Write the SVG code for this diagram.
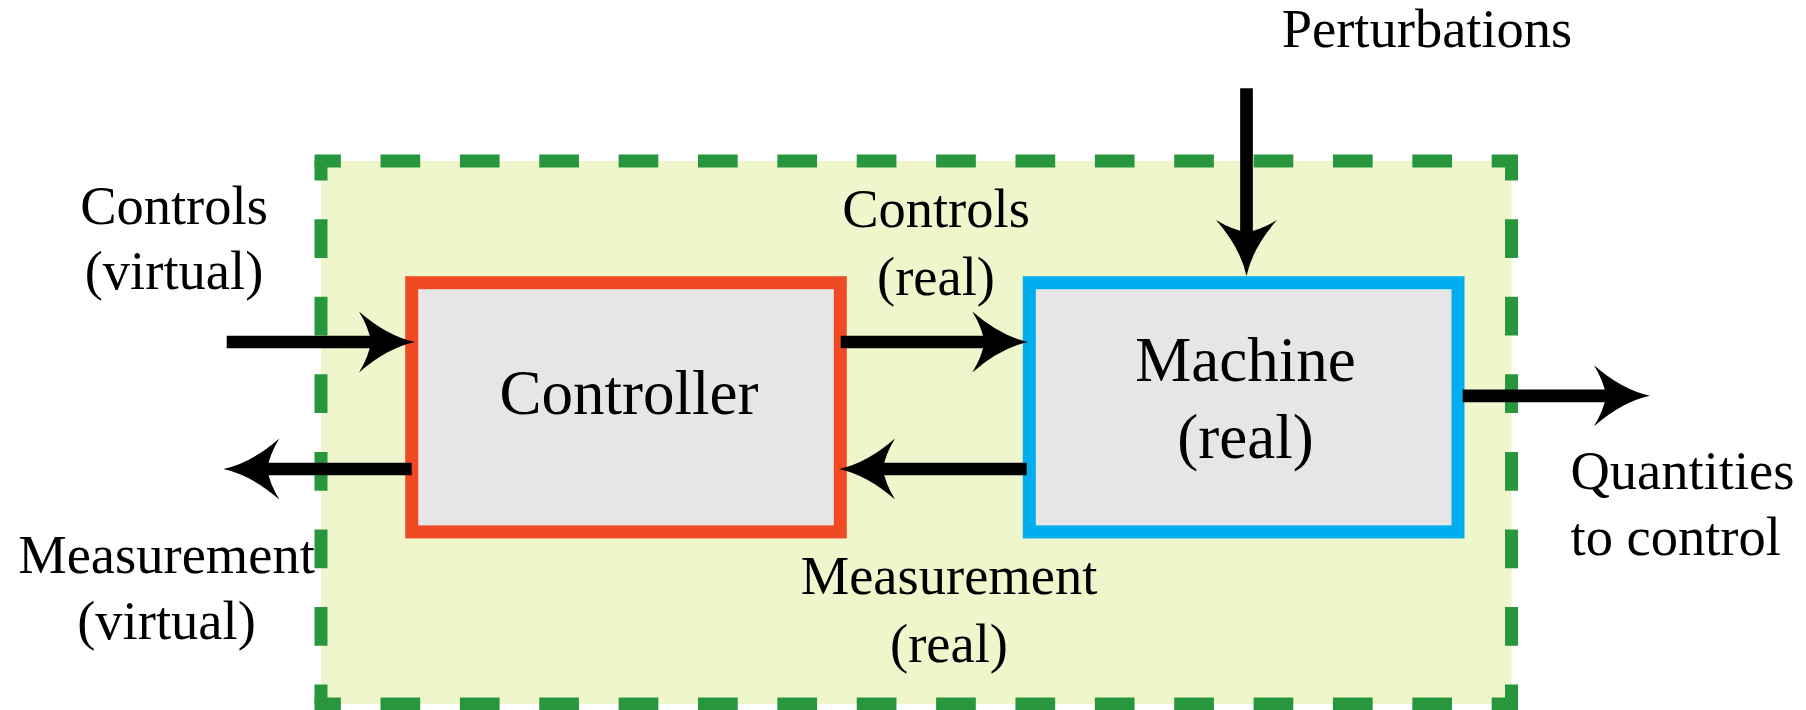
<svg xmlns="http://www.w3.org/2000/svg" width="1806" height="710" viewBox="0 0 1806 710">
<style>
.lbl{font-family:"Liberation Serif","Times New Roman",serif;font-size:54.5px;fill:#000}
.big{font-family:"Liberation Serif","Times New Roman",serif;font-size:63px;fill:#000}
.bh{stroke:#28963C;stroke-width:13;fill:none;stroke-dasharray:39.7 39.67;stroke-dashoffset:13.35}
.bv{stroke:#28963C;stroke-width:13;fill:none;stroke-dasharray:38.79 38.78;stroke-dashoffset:19.39}
.node{fill:#E6E6E6;stroke-width:13}
.conn{stroke:#000;stroke-width:12.7;fill:none;marker-end:url(#head)}
</style>
<defs>
<marker id="head" markerUnits="userSpaceOnUse" orient="auto" overflow="visible" refX="16" refY="0" markerWidth="60" markerHeight="64">
<path d="M56 0 Q28 -6 0 -30.5 Q10 -14 12 0 Q10 14 0 30.5 Q28 6 56 0 Z" fill="#000"/>
</marker>
</defs>
<rect width="1806" height="710" fill="#fff"/>
<g id="system">
<rect x="321" y="161" width="1190.5" height="543" fill="#F0F6CC"/>
<line class="bh" x1="314.5" y1="161" x2="1518" y2="161"/>
<line class="bh" x1="314.5" y1="704" x2="1518" y2="704"/>
<line class="bv" x1="321" y1="161" x2="321" y2="704"/>
<line class="bv" x1="1511.5" y1="161" x2="1511.5" y2="704"/>
</g>
<g id="controller">
<rect class="node" x="411.7" y="282.7" width="428.6" height="249.2" stroke="#F04A24"/>
<text class="big" x="629" y="414" text-anchor="middle">Controller</text>
</g>
<g id="machine">
<rect class="node" x="1029.3" y="282.7" width="428.7" height="249.2" stroke="#00AEEF"/>
<text class="big" x="1245.5" y="381" text-anchor="middle">Machine</text>
<text class="big" x="1245.5" y="458" text-anchor="middle">(real)</text>
</g>
<g id="labels">
<text class="lbl" x="1427" y="46.5" text-anchor="middle">Perturbations</text>
<text class="lbl" x="174" y="223.5" text-anchor="middle">Controls</text>
<text class="lbl" x="174" y="289" text-anchor="middle">(virtual)</text>
<text class="lbl" x="936" y="227" text-anchor="middle">Controls</text>
<text class="lbl" x="936" y="295" text-anchor="middle">(real)</text>
<text class="lbl" x="166.5" y="572.5" text-anchor="middle">Measurement</text>
<text class="lbl" x="166.5" y="638.5" text-anchor="middle">(virtual)</text>
<text class="lbl" x="949" y="594" text-anchor="middle">Measurement</text>
<text class="lbl" x="949" y="662" text-anchor="middle">(real)</text>
<text class="lbl" x="1570.5" y="488.5">Quantities</text>
<text class="lbl" x="1570.5" y="555">to control</text>
</g>
<g id="connectors">
<path class="conn" d="M226.7 342 H375"/>
<path class="conn" d="M411.7 469 H263.3"/>
<path class="conn" d="M840.7 342 H988.3"/>
<path class="conn" d="M1026.7 469 H879"/>
<path class="conn" d="M1246.5 88.3 V236"/>
<path class="conn" d="M1462.7 395.8 H1610"/>
</g>
</svg>
